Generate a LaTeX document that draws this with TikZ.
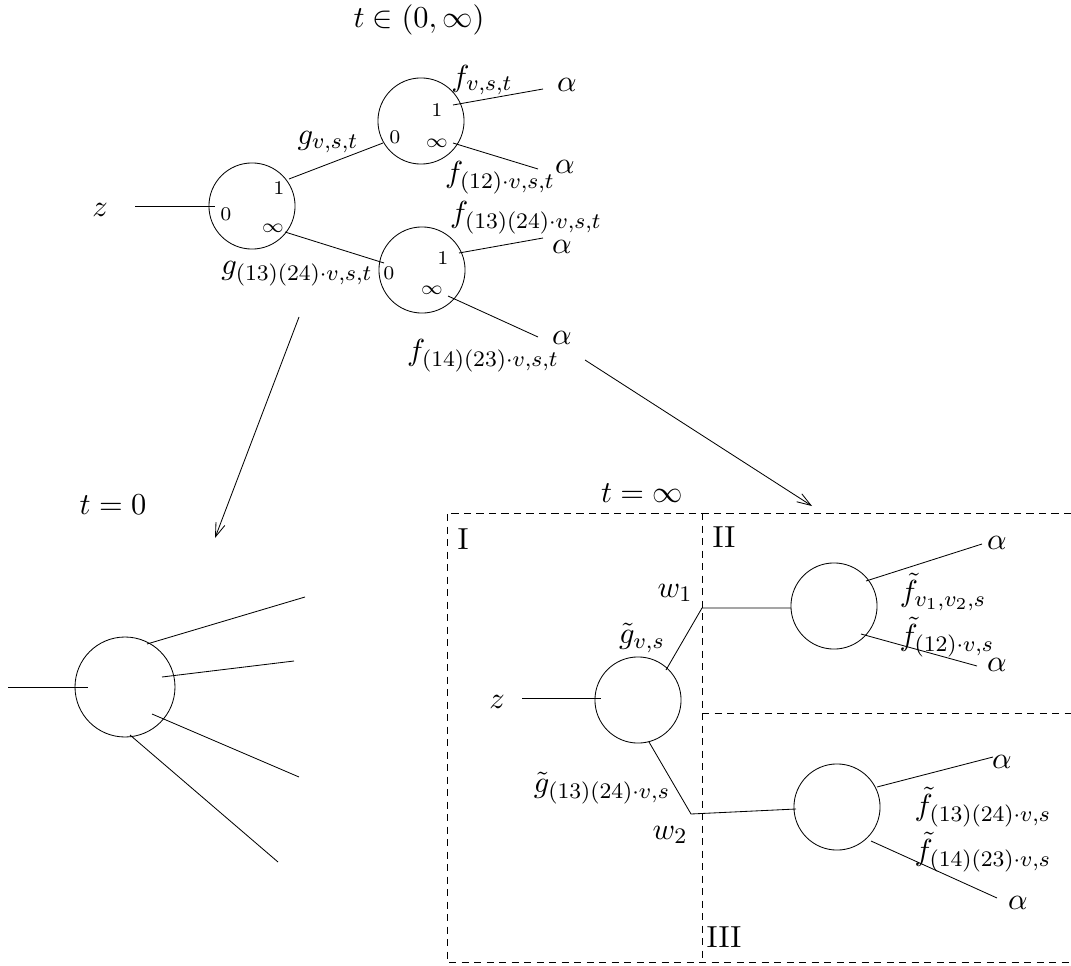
\documentclass[tikz,border=0pt,11pt]{standalone}
\usepackage{tikz}
\usetikzlibrary{arrows.meta}

\begin{document}
\begin{tikzpicture}[x=0.36pt, y=-0.36pt, line width=0.3pt,
  every node/.style={inner sep=1pt},
  bub/.style={circle, draw, inner sep=0pt, minimum size=31pt},
  big/.style={bub, minimum size=36pt},
  port/.style={font=\fontsize{7}{8}\selectfont, inner sep=0pt},
  zone/.style={dash pattern=on 2.6pt off 1.9pt},
  flow/.style={-{Straight Barb[length=5pt,width=3.4pt]}}]
  \useasboundingbox (0,0) rectangle (1071,966);

  % t in (0,infty): the three bubbles
  \node[inner sep=0pt] at (419,20) {$t\in(0,\infty)$};
  \node[bub] (A) at (252,206) {};
  \node[bub] (B) at (421,121) {};
  \node[bub] (C) at (422,270) {};
  \node[port] (A0) at (226,214) {0};
  \node[port] (A1) at (279,188) {1};
  \node[port] (Ainf) at (273,228) {$\infty$};
  \node[port] (B0) at (395,137) {0};
  \node[port] (B1) at (437,110) {1};
  \node[port] (Binf) at (437,143) {$\infty$};
  \node[port] (C0) at (389,273) {0};
  \node[port] (C1) at (443,258) {1};
  \node[port] (Cinf) at (432,290) {$\infty$};

  \node (zt) at (100,210) {$z$};
  \coordinate (zt0) at (135,206);
  \coordinate (zt1) at (215,206);
  \coordinate (ab0) at (289,179);
  \coordinate (ab1) at (383,143);
  \coordinate (ac0) at (285,232);
  \coordinate (ac1) at (384,263);
  \coordinate (bu0) at (453,105);
  \coordinate (bu1) at (543,89);
  \coordinate (bd0) at (453,143);
  \coordinate (bd1) at (538,169);
  \coordinate (cu0) at (459,253);
  \coordinate (cu1) at (543,238);
  \coordinate (cd0) at (448,296);
  \coordinate (cd1) at (538,337);
  \draw (zt0) -- (zt1);
  \draw (ab0) -- (ab1);
  \draw (ac0) -- (ac1);
  \draw (bu0) -- (bu1);
  \draw (bd0) -- (bd1);
  \draw (cu0) -- (cu1);
  \draw (cd0) -- (cd1);

  \node (gt) at (328,142) {$g_{v,s,t}$};
  \node (gct) at (297,274) {$g_{(13)(24)\cdot v,s,t}$};
  \node (ft1) at (482,80) {$f_{v,s,t}$};
  \node (ft2) at (500,178) {$f_{(12)\cdot v,s,t}$};
  \node (ft3) at (526,218) {$f_{(13)(24)\cdot v,s,t}$};
  \node (ft4) at (483,356) {$f_{(14)(23)\cdot v,s,t}$};
  \node (al1) at (567,85) {$\alpha$};
  \node (al2) at (565,167) {$\alpha$};
  \node (al3) at (562,247) {$\alpha$};
  \node (al4) at (562,338) {$\alpha$};

  % the two limits
  \coordinate (lim0a) at (299,317);
  \coordinate (lim0b) at (215,538);
  \coordinate (lim1a) at (585,360);
  \coordinate (lim1b) at (812,506);
  \draw[flow] (lim0a) -- (lim0b);
  \draw[flow] (lim1a) -- (lim1b);

  % t=0
  \node at (113,505) {$t=0$};
  \node[big] (D) at (125,687) {};
  \draw (8,687) -- (88,687);
  \draw (147,644) -- (305,597);
  \draw (162,677) -- (294,661);
  \draw (152,714) -- (299,777);
  \draw (130,735) -- (278,862);

  % t=infty, split into regions I, II, III
  \node at (642,493) {$t=\infty$};
  \draw[zone] (1071,513) -- (447,513) -- (447,962) -- (1071,962);
  \draw[zone] (702,513) -- (702,962);
  \draw[zone] (702,713) -- (1071,713);
  \node at (463,539) {I};
  \node at (724,537) {II};
  \node at (724,937) {III};

  \node[bub] (E) at (638,700) {};
  \node[bub] (F) at (834,606) {};
  \node[bub] (G) at (837,807) {};
  \node (zi) at (497,702) {$z$};
  \coordinate (zi0) at (522,698);
  \coordinate (zi1) at (601,698);
  \coordinate (e1) at (666,670);
  \coordinate (w1) at (702,608);
  \coordinate (f0) at (791,608);
  \coordinate (e2) at (649,742);
  \coordinate (w2) at (691,814);
  \coordinate (g0) at (796,809);
  \draw (zi0) -- (zi1);
  \draw (e1) -- (w1) -- (f0);
  \draw (e2) -- (w2) -- (g0);
  \coordinate (fu0) at (866,581);
  \coordinate (fu1) at (982,544);
  \coordinate (fd0) at (861,634);
  \coordinate (fd1) at (977,666);
  \coordinate (gu0) at (877,787);
  \coordinate (gu1) at (993,757);
  \coordinate (gd0) at (871,841);
  \coordinate (gd1) at (997,898);
  \draw (fu0) -- (fu1);
  \draw (fd0) -- (fd1);
  \draw (gu0) -- (gu1);
  \draw (gd0) -- (gd1);

  \node (w1t) at (675,593) {$w_1$};
  \node (w2t) at (670,835) {$w_2$};
  \node (gv) at (642,638) {$\tilde g_{v,s}$};
  \node (gcv) at (602,788) {$\tilde g_{(13)(24)\cdot v,s}$};
  \node (fv1) at (943,592) {$\tilde f_{v_1,v_2,s}$};
  \node (fv2) at (947,637) {$\tilde f_{(12)\cdot v,s}$};
  \node (fv3) at (983,807) {$\tilde f_{(13)(24)\cdot v,s}$};
  \node (fv4) at (983,852) {$\tilde f_{(14)(23)\cdot v,s}$};
  \node (be1) at (997,543) {$\alpha$};
  \node (be2) at (997,665) {$\alpha$};
  \node (be3) at (1002,762) {$\alpha$};
  \node (be4) at (1018,903) {$\alpha$};
\end{tikzpicture}
\end{document}
